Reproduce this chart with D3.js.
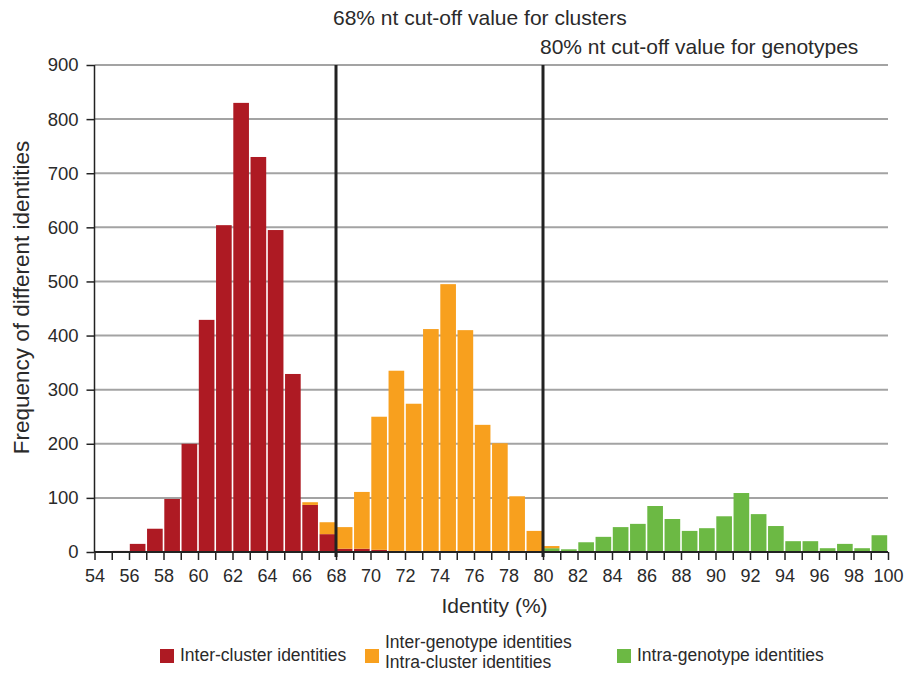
<!DOCTYPE html>
<html>
<head>
<meta charset="utf-8">
<script src="https://cdn.jsdelivr.net/npm/d3@7"></script>
<style>
  html, body { margin: 0; padding: 0; background: #fff; }
  svg { display: block; font-family: "Liberation Sans", Arial, Helvetica, sans-serif; }
</style>
</head>
<body>
<svg id="chart" width="905" height="673"></svg>
<script>
// Histogram bins: each bin starts at binStart and spans 1 % identity
const binStart = d3.range(55, 100);

// Frequencies per bin (55–56 ... 99–100)
const interCluster = [2, 15, 43, 98, 200, 429, 604, 830, 730, 595, 329, 87, 33, 6, 6, 4, 2, 2, 0, 0, 0, 0, 0, 0, 0, 0, 0, 0, 0, 0, 0, 0, 0, 0, 0, 0, 0, 0, 0, 0, 0, 0, 0, 0, 0];
const interGenotype = [0, 0, 0, 0, 0, 0, 0, 0, 0, 0, 0, 5, 22, 40, 105, 246, 333, 272, 412, 495, 410, 235, 201, 101, 39, 4, 0, 0, 0, 0, 0, 0, 0, 0, 0, 0, 0, 0, 0, 0, 0, 0, 0, 0, 0];
const intraGenotype = [0, 0, 0, 0, 0, 0, 0, 0, 0, 0, 0, 0, 0, 0, 0, 0, 0, 0, 0, 0, 0, 0, 0, 2, 0, 7, 5, 18, 28, 46, 52, 85, 61, 39, 44, 66, 109, 70, 48, 20, 20, 7, 15, 7, 31];

const yTicks = d3.range(0, 901, 100);
const xTicks = d3.range(54, 101, 1);
const cutoffs = [
  { value: 68, label: "68% nt cut-off value for clusters", labelY: 25 },
  { value: 80, label: "80% nt cut-off value for genotypes", labelY: 54 }
];
const legendItems = [
  { key: "red", lines: ["Inter-cluster identities"] },
  { key: "orange", lines: ["Inter-genotype identities", "Intra-cluster identities"] },
  { key: "green", lines: ["Intra-genotype identities"] }
];

const colors = { red: "#ae1a23", orange: "#f8a01e", green: "#6cb944" };
const ink = "#2a2a2a";

const rows = binStart.map((b, i) => ({
  bin: b, red: interCluster[i], green: intraGenotype[i], orange: interGenotype[i]
}));

const svg = d3.select("#chart");
const plotL = 94.5, plotR = 888, plotT = 65, plotB = 552;

const x = d3.scaleLinear().domain([54, 100]).range([plotL, plotR]);
const y = d3.scaleLinear().domain([0, 900]).range([plotB, plotT]);

// Horizontal gridlines
svg.append("g").selectAll("line")
  .data(yTicks.filter(d => d > 0))
  .join("line")
  .attr("x1", plotL).attr("x2", plotR)
  .attr("y1", d => y(d)).attr("y2", d => y(d))
  .attr("stroke", "#a3a3a3").attr("stroke-width", 2);

// Stacked bars
const stack = d3.stack().keys(["red", "green", "orange"])(rows);
svg.append("g").selectAll("g")
  .data(stack)
  .join("g")
  .attr("fill", s => colors[s.key])
  .selectAll("rect")
  .data(s => s.filter(d => d[1] - d[0] > 0))
  .join("rect")
  .attr("x", d => x(d.data.bin) + 0.8)
  .attr("width", d => x(d.data.bin + 1) - x(d.data.bin) - 1.6)
  .attr("y", d => y(d[1]))
  .attr("height", d => y(d[0]) - y(d[1]));

// Cut-off lines
svg.append("g").selectAll("line")
  .data(cutoffs)
  .join("line")
  .attr("x1", d => x(d.value)).attr("x2", d => x(d.value))
  .attr("y1", plotT).attr("y2", plotB + 5)
  .attr("stroke", "#222").attr("stroke-width", 3);

svg.append("g").selectAll("text")
  .data(cutoffs)
  .join("text")
  .attr("x", d => x(d.value) - 3)
  .attr("y", d => d.labelY)
  .attr("font-size", 21)
  .attr("fill", ink)
  .text(d => d.label);

// Axes
const yAxis = svg.append("g")
  .attr("transform", `translate(${plotL},0)`)
  .call(d3.axisLeft(y).tickValues(yTicks).tickSize(8).tickPadding(8).tickFormat(d3.format("d")));
yAxis.select(".domain").attr("stroke", "#222").attr("stroke-width", 1.5).attr("d", `M0,${plotT}V${plotB}`);
yAxis.selectAll(".tick line").attr("stroke", "#222").attr("stroke-width", 1.5);
yAxis.selectAll(".tick text").attr("font-size", 18.5).attr("fill", ink).attr("font-family", "Liberation Sans, Arial, sans-serif");

const xAxis = svg.append("g")
  .attr("transform", `translate(0,${plotB})`)
  .call(d3.axisBottom(x).tickValues(xTicks).tickSize(8).tickPadding(9)
    .tickFormat(d => d % 2 === 0 ? d : ""));
xAxis.select(".domain").attr("stroke", "#222").attr("stroke-width", 2).attr("d", `M${plotL},0H${plotR}`);
xAxis.selectAll(".tick line").attr("stroke", "#222").attr("stroke-width", 1.5);
xAxis.selectAll(".tick text").attr("font-size", 18).attr("fill", ink).attr("font-family", "Liberation Sans, Arial, sans-serif");

// Axis titles
svg.append("text")
  .attr("x", 494.5).attr("y", 613)
  .attr("text-anchor", "middle").attr("font-size", 21).attr("fill", ink)
  .text("Identity (%)");

svg.append("text")
  .attr("transform", `translate(29,297.5) rotate(-90)`)
  .attr("text-anchor", "middle").attr("font-size", 22.5).attr("fill", ink)
  .text("Frequency of different identities");

// Legend
const legendX = [160, 365, 617];
const lg = svg.append("g").selectAll("g")
  .data(legendItems)
  .join("g")
  .attr("transform", (d, i) => `translate(${legendX[i]},649)`);
lg.append("rect")
  .attr("width", 14).attr("height", 14)
  .attr("fill", d => colors[d.key]);
lg.each(function(d) {
  const g = d3.select(this);
  const n = d.lines.length;
  const base = n > 1 ? 9 : 12;
  d.lines.forEach((t, j) => {
    g.append("text")
      .attr("x", 20)
      .attr("y", base + (j - (n - 1) / 2) * 20)
      .attr("font-size", 17.5).attr("fill", ink)
      .text(t);
  });
});
</script>
</body>
</html>
